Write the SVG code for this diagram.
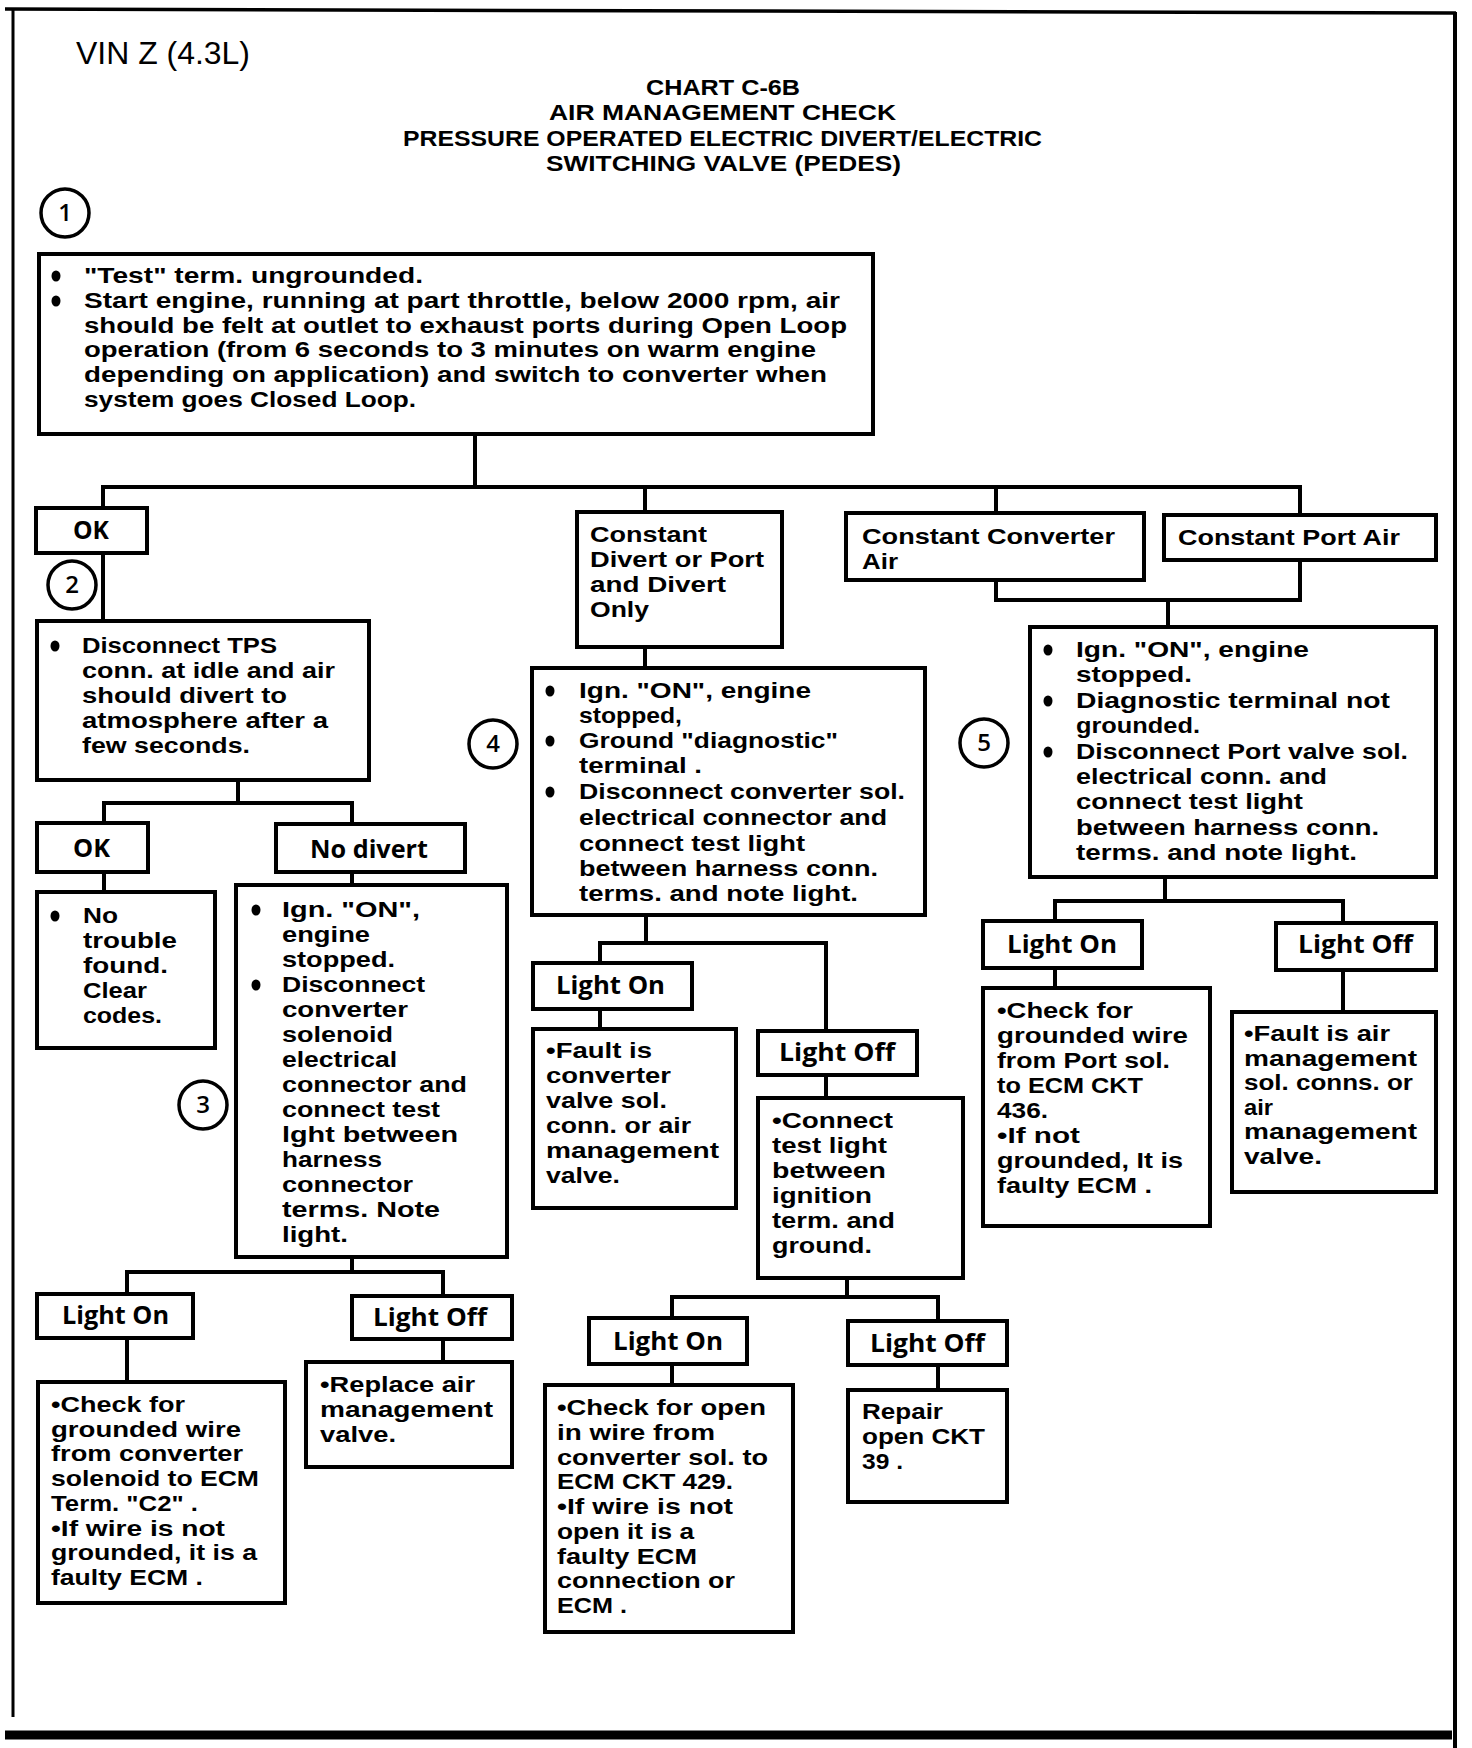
<svg xmlns="http://www.w3.org/2000/svg" width="1472" height="1748" viewBox="0 0 1472 1748">
<style>
.frame{stroke:#000;fill:none}
.box{fill:#fff;stroke:#000;stroke-width:4}
.c{stroke:#000;stroke-width:4;fill:none;stroke-linecap:square}
.num{fill:#fff;stroke:#000;stroke-width:3.5}
.dot{fill:#000}
text{fill:#000}
.t{font-family:"Liberation Sans","Open Sans",sans-serif;font-weight:700;font-size:21.5px}
.lb{font-family:"Open Sans","Liberation Sans",sans-serif;font-weight:700;font-size:25px}
.n{font-family:"Open Sans","Liberation Sans",sans-serif;font-weight:600;font-size:24px;text-anchor:middle}
.h{font-family:"Liberation Sans",sans-serif;font-weight:700;font-size:22.5px}
.vin{font-family:"Liberation Sans",sans-serif;font-size:31px}
</style>
<rect x="0" y="0" width="1472" height="1748" fill="#fff"/>
<g id="frame">
<path class="frame" d="M5,9 L1456,13" stroke-width="3.5"/>
<path class="frame" d="M13,9 L13,1717" stroke-width="3"/>
<path class="frame" d="M1455,12 L1455,1748" stroke-width="4"/>
<path class="frame" d="M5,1735 L1452,1735" stroke-width="9"/>
</g>
<g id="titles">
<text class="vin" x="76" y="64" textLength="174" lengthAdjust="spacingAndGlyphs">VIN Z (4.3L)</text>
<text class="h" x="646" y="95" textLength="154" lengthAdjust="spacingAndGlyphs">CHART C-6B</text>
<text class="h" x="549" y="120.3" textLength="347" lengthAdjust="spacingAndGlyphs">AIR MANAGEMENT CHECK</text>
<text class="h" x="403" y="145.7" textLength="639" lengthAdjust="spacingAndGlyphs">PRESSURE OPERATED ELECTRIC DIVERT/ELECTRIC</text>
<text class="h" x="546" y="171" textLength="355" lengthAdjust="spacingAndGlyphs">SWITCHING VALVE (PEDES)</text>
</g>
<g id="connectors">
<path class="c" d="M475,434 V487 M103,487 H1300 M103,487 V508 M645,487 V512 M996,487 V513 M1300,487 V515"/>
<path class="c" d="M103,553 V621"/>
<path class="c" d="M238,780 V803 M104,803 H352 M104,803 V823 M352,803 V824"/>
<path class="c" d="M104,872 V892 M352,872 V885"/>
<path class="c" d="M352,1257 V1272 M127,1272 H443 M127,1272 V1294 M443,1272 V1296"/>
<path class="c" d="M127,1338 V1382 M443,1339 V1362"/>
<path class="c" d="M645,647 V668"/>
<path class="c" d="M646,915 V943 M600,943 H826 M600,943 V963 M826,943 V1031"/>
<path class="c" d="M600,1009 V1029 M826,1075 V1098"/>
<path class="c" d="M847,1278 V1297 M672,1297 H938 M672,1297 V1318 M938,1297 V1321"/>
<path class="c" d="M672,1364 V1385 M938,1365 V1390"/>
<path class="c" d="M996,580 V600 M1300,560 V600 M996,600 H1300 M1168,600 V627"/>
<path class="c" d="M1165,877 V901 M1055,901 H1343 M1055,901 V921 M1343,901 V923"/>
<path class="c" d="M1055,968 V988 M1343,970 V1012"/>
</g>
<g id="step1">
<circle class="num" cx="65" cy="213" r="24"/>
<text class="n" x="65" y="221">1</text>
</g>
<g id="step2">
<circle class="num" cx="72" cy="585" r="24"/>
<text class="n" x="72" y="593">2</text>
</g>
<g id="step3">
<circle class="num" cx="203" cy="1105" r="24"/>
<text class="n" x="203" y="1113">3</text>
</g>
<g id="step4">
<circle class="num" cx="493" cy="744" r="24"/>
<text class="n" x="493" y="752">4</text>
</g>
<g id="step5">
<circle class="num" cx="984" cy="743" r="24"/>
<text class="n" x="984" y="751">5</text>
</g>
<g id="box1">
<rect class="box" x="39" y="254" width="834" height="180"/>
<ellipse class="dot" cx="56" cy="276" rx="4.5" ry="5.5"/>
<ellipse class="dot" cx="56" cy="301" rx="4.5" ry="5.5"/>
<text class="t" x="84" y="283" textLength="339" lengthAdjust="spacingAndGlyphs">"Test" term. ungrounded.</text>
<text class="t" x="84" y="307.8" textLength="756" lengthAdjust="spacingAndGlyphs">Start engine, running at part throttle, below 2000 rpm, air</text>
<text class="t" x="84" y="332.6" textLength="763" lengthAdjust="spacingAndGlyphs">should be felt at outlet to exhaust ports during Open Loop</text>
<text class="t" x="84" y="357.4" textLength="732" lengthAdjust="spacingAndGlyphs">operation (from 6 seconds to 3 minutes on warm engine</text>
<text class="t" x="84" y="382.2" textLength="743" lengthAdjust="spacingAndGlyphs">depending on application) and switch to converter when</text>
<text class="t" x="84" y="407" textLength="332" lengthAdjust="spacingAndGlyphs">system goes Closed Loop.</text>
</g>
<g id="ok1">
<rect class="box" x="36" y="508" width="111" height="45"/>
<text class="lb" x="73" y="539" textLength="36" lengthAdjust="spacingAndGlyphs">OK</text>
</g>
<g id="tps">
<rect class="box" x="37" y="621" width="332" height="159"/>
<ellipse class="dot" cx="55" cy="646" rx="4.5" ry="5.5"/>
<text class="t" x="82" y="653" textLength="195" lengthAdjust="spacingAndGlyphs">Disconnect TPS</text>
<text class="t" x="82" y="678" textLength="253" lengthAdjust="spacingAndGlyphs">conn. at idle and air</text>
<text class="t" x="82" y="703" textLength="205" lengthAdjust="spacingAndGlyphs">should divert to</text>
<text class="t" x="82" y="728" textLength="246" lengthAdjust="spacingAndGlyphs">atmosphere after a</text>
<text class="t" x="82" y="753" textLength="168" lengthAdjust="spacingAndGlyphs">few seconds.</text>
</g>
<g id="ok2">
<rect class="box" x="37" y="823" width="111" height="49"/>
<text class="lb" x="73" y="857" textLength="37" lengthAdjust="spacingAndGlyphs">OK</text>
</g>
<g id="notrouble">
<rect class="box" x="37" y="892" width="178" height="156"/>
<ellipse class="dot" cx="55" cy="916" rx="4.5" ry="5.5"/>
<text class="t" x="83" y="923" textLength="35" lengthAdjust="spacingAndGlyphs">No</text>
<text class="t" x="83" y="948" textLength="94" lengthAdjust="spacingAndGlyphs">trouble</text>
<text class="t" x="83" y="973" textLength="85" lengthAdjust="spacingAndGlyphs">found.</text>
<text class="t" x="83" y="998" textLength="64" lengthAdjust="spacingAndGlyphs">Clear</text>
<text class="t" x="83" y="1023" textLength="79" lengthAdjust="spacingAndGlyphs">codes.</text>
</g>
<g id="nodivert">
<rect class="box" x="276" y="824" width="189" height="48"/>
<text class="lb" x="310" y="858" textLength="118" lengthAdjust="spacingAndGlyphs">No divert</text>
</g>
<g id="box3">
<rect class="box" x="236" y="885" width="271" height="372"/>
<ellipse class="dot" cx="256" cy="910" rx="4.5" ry="5.5"/>
<ellipse class="dot" cx="256" cy="985" rx="4.5" ry="5.5"/>
<text class="t" x="282" y="917" textLength="138" lengthAdjust="spacingAndGlyphs">Ign. "ON",</text>
<text class="t" x="282" y="942" textLength="88" lengthAdjust="spacingAndGlyphs">engine</text>
<text class="t" x="282" y="967" textLength="113" lengthAdjust="spacingAndGlyphs">stopped.</text>
<text class="t" x="282" y="992" textLength="143" lengthAdjust="spacingAndGlyphs">Disconnect</text>
<text class="t" x="282" y="1017" textLength="126" lengthAdjust="spacingAndGlyphs">converter</text>
<text class="t" x="282" y="1042" textLength="111" lengthAdjust="spacingAndGlyphs">solenoid</text>
<text class="t" x="282" y="1067" textLength="115" lengthAdjust="spacingAndGlyphs">electrical</text>
<text class="t" x="282" y="1092" textLength="185" lengthAdjust="spacingAndGlyphs">connector and</text>
<text class="t" x="282" y="1117" textLength="158" lengthAdjust="spacingAndGlyphs">connect test</text>
<text class="t" x="282" y="1142" textLength="176" lengthAdjust="spacingAndGlyphs">lght between</text>
<text class="t" x="282" y="1167" textLength="100" lengthAdjust="spacingAndGlyphs">harness</text>
<text class="t" x="282" y="1192" textLength="131" lengthAdjust="spacingAndGlyphs">connector</text>
<text class="t" x="282" y="1217" textLength="158" lengthAdjust="spacingAndGlyphs">terms.  Note</text>
<text class="t" x="282" y="1242" textLength="66" lengthAdjust="spacingAndGlyphs">light.</text>
</g>
<g id="lighton1">
<rect class="box" x="37" y="1294" width="156" height="44"/>
<text class="lb" x="62" y="1324" textLength="107" lengthAdjust="spacingAndGlyphs">Light On</text>
</g>
<g id="check1">
<rect class="box" x="38" y="1382" width="247" height="221"/>
<text class="t" x="51" y="1412" textLength="134" lengthAdjust="spacingAndGlyphs">•Check for</text>
<text class="t" x="51" y="1436.7" textLength="190" lengthAdjust="spacingAndGlyphs">grounded wire</text>
<text class="t" x="51" y="1461.4" textLength="192" lengthAdjust="spacingAndGlyphs">from converter</text>
<text class="t" x="51" y="1486.1" textLength="208" lengthAdjust="spacingAndGlyphs">solenoid to ECM</text>
<text class="t" x="51" y="1510.8" textLength="147" lengthAdjust="spacingAndGlyphs">Term. "C2" .</text>
<text class="t" x="51" y="1535.5" textLength="174" lengthAdjust="spacingAndGlyphs">•If wire is not</text>
<text class="t" x="51" y="1560.2" textLength="206" lengthAdjust="spacingAndGlyphs">grounded, it is a</text>
<text class="t" x="51" y="1585" textLength="152" lengthAdjust="spacingAndGlyphs">faulty ECM .</text>
</g>
<g id="lightoff1">
<rect class="box" x="352" y="1296" width="160" height="43"/>
<text class="lb" x="373" y="1326" textLength="114" lengthAdjust="spacingAndGlyphs">Light Off</text>
</g>
<g id="replace">
<rect class="box" x="306" y="1362" width="206" height="105"/>
<text class="t" x="320" y="1392" textLength="155" lengthAdjust="spacingAndGlyphs">•Replace air</text>
<text class="t" x="320" y="1417" textLength="173" lengthAdjust="spacingAndGlyphs">management</text>
<text class="t" x="320" y="1442" textLength="76" lengthAdjust="spacingAndGlyphs">valve.</text>
</g>
<g id="constdivert">
<rect class="box" x="577" y="512" width="205" height="135"/>
<text class="t" x="590" y="542" textLength="117" lengthAdjust="spacingAndGlyphs">Constant</text>
<text class="t" x="590" y="567" textLength="174" lengthAdjust="spacingAndGlyphs">Divert or Port</text>
<text class="t" x="590" y="592" textLength="136" lengthAdjust="spacingAndGlyphs">and Divert</text>
<text class="t" x="590" y="617" textLength="59" lengthAdjust="spacingAndGlyphs">Only</text>
</g>
<g id="box4">
<rect class="box" x="532" y="668" width="393" height="247"/>
<ellipse class="dot" cx="550" cy="691" rx="4.5" ry="5.5"/>
<ellipse class="dot" cx="550" cy="741" rx="4.5" ry="5.5"/>
<ellipse class="dot" cx="550" cy="792" rx="4.5" ry="5.5"/>
<text class="t" x="579" y="698" textLength="232" lengthAdjust="spacingAndGlyphs">Ign. "ON", engine</text>
<text class="t" x="579" y="723" textLength="103" lengthAdjust="spacingAndGlyphs">stopped,</text>
<text class="t" x="579" y="748" textLength="259" lengthAdjust="spacingAndGlyphs">Ground "diagnostic"</text>
<text class="t" x="579" y="773" textLength="123" lengthAdjust="spacingAndGlyphs">terminal .</text>
<text class="t" x="579" y="799" textLength="326" lengthAdjust="spacingAndGlyphs">Disconnect converter sol.</text>
<text class="t" x="579" y="825" textLength="308" lengthAdjust="spacingAndGlyphs">electrical connector and</text>
<text class="t" x="579" y="851" textLength="226" lengthAdjust="spacingAndGlyphs">connect test light</text>
<text class="t" x="579" y="876" textLength="299" lengthAdjust="spacingAndGlyphs">between harness conn.</text>
<text class="t" x="579" y="901" textLength="279" lengthAdjust="spacingAndGlyphs">terms. and note light.</text>
</g>
<g id="lighton2">
<rect class="box" x="533" y="963" width="159" height="46"/>
<text class="lb" x="556" y="994" textLength="109" lengthAdjust="spacingAndGlyphs">Light On</text>
</g>
<g id="fault1">
<rect class="box" x="533" y="1029" width="203" height="179"/>
<text class="t" x="546" y="1058" textLength="106" lengthAdjust="spacingAndGlyphs">•Fault is</text>
<text class="t" x="546" y="1083" textLength="125" lengthAdjust="spacingAndGlyphs">converter</text>
<text class="t" x="546" y="1108" textLength="121" lengthAdjust="spacingAndGlyphs">valve sol.</text>
<text class="t" x="546" y="1133" textLength="145" lengthAdjust="spacingAndGlyphs">conn. or air</text>
<text class="t" x="546" y="1158" textLength="173" lengthAdjust="spacingAndGlyphs">management</text>
<text class="t" x="546" y="1183" textLength="74" lengthAdjust="spacingAndGlyphs">valve.</text>
</g>
<g id="lightoff2">
<rect class="box" x="758" y="1031" width="159" height="44"/>
<text class="lb" x="779" y="1061" textLength="116" lengthAdjust="spacingAndGlyphs">Light Off</text>
</g>
<g id="connect">
<rect class="box" x="758" y="1098" width="205" height="180"/>
<text class="t" x="772" y="1128" textLength="121" lengthAdjust="spacingAndGlyphs">•Connect</text>
<text class="t" x="772" y="1153" textLength="115" lengthAdjust="spacingAndGlyphs">test light</text>
<text class="t" x="772" y="1178" textLength="114" lengthAdjust="spacingAndGlyphs">between</text>
<text class="t" x="772" y="1203" textLength="100" lengthAdjust="spacingAndGlyphs">ignition</text>
<text class="t" x="772" y="1228" textLength="123" lengthAdjust="spacingAndGlyphs">term. and</text>
<text class="t" x="772" y="1253" textLength="100" lengthAdjust="spacingAndGlyphs">ground.</text>
</g>
<g id="lighton3">
<rect class="box" x="589" y="1318" width="158" height="46"/>
<text class="lb" x="613" y="1350" textLength="110" lengthAdjust="spacingAndGlyphs">Light On</text>
</g>
<g id="checkopen">
<rect class="box" x="545" y="1385" width="248" height="247"/>
<text class="t" x="557" y="1415" textLength="209" lengthAdjust="spacingAndGlyphs">•Check for open</text>
<text class="t" x="557" y="1439.75" textLength="158" lengthAdjust="spacingAndGlyphs">in wire from</text>
<text class="t" x="557" y="1464.5" textLength="211" lengthAdjust="spacingAndGlyphs">converter sol. to</text>
<text class="t" x="557" y="1489.25" textLength="176" lengthAdjust="spacingAndGlyphs">ECM CKT 429.</text>
<text class="t" x="557" y="1514" textLength="176" lengthAdjust="spacingAndGlyphs">•If wire is not</text>
<text class="t" x="557" y="1538.75" textLength="137" lengthAdjust="spacingAndGlyphs">open it is a</text>
<text class="t" x="557" y="1563.5" textLength="140" lengthAdjust="spacingAndGlyphs">faulty ECM</text>
<text class="t" x="557" y="1588.25" textLength="178" lengthAdjust="spacingAndGlyphs">connection or</text>
<text class="t" x="557" y="1613" textLength="70" lengthAdjust="spacingAndGlyphs">ECM .</text>
</g>
<g id="lightoff3">
<rect class="box" x="848" y="1321" width="159" height="44"/>
<text class="lb" x="870" y="1352" textLength="115" lengthAdjust="spacingAndGlyphs">Light Off</text>
</g>
<g id="repair">
<rect class="box" x="848" y="1390" width="159" height="112"/>
<text class="t" x="862" y="1419" textLength="81" lengthAdjust="spacingAndGlyphs">Repair</text>
<text class="t" x="862" y="1444" textLength="123" lengthAdjust="spacingAndGlyphs">open CKT</text>
<text class="t" x="862" y="1469" textLength="41" lengthAdjust="spacingAndGlyphs">39 .</text>
</g>
<g id="constconv">
<rect class="box" x="846" y="513" width="298" height="67"/>
<text class="t" x="862" y="544" textLength="253" lengthAdjust="spacingAndGlyphs">Constant Converter</text>
<text class="t" x="862" y="569" textLength="36" lengthAdjust="spacingAndGlyphs">Air</text>
</g>
<g id="portair">
<rect class="box" x="1164" y="515" width="272" height="45"/>
<text class="t" x="1178" y="545" textLength="222" lengthAdjust="spacingAndGlyphs">Constant Port Air</text>
</g>
<g id="box5">
<rect class="box" x="1030" y="627" width="406" height="250"/>
<ellipse class="dot" cx="1048" cy="650" rx="4.5" ry="5.5"/>
<ellipse class="dot" cx="1048" cy="701" rx="4.5" ry="5.5"/>
<ellipse class="dot" cx="1048" cy="752" rx="4.5" ry="5.5"/>
<text class="t" x="1076" y="657" textLength="233" lengthAdjust="spacingAndGlyphs">Ign. "ON", engine</text>
<text class="t" x="1076" y="682" textLength="116" lengthAdjust="spacingAndGlyphs">stopped.</text>
<text class="t" x="1076" y="708" textLength="314" lengthAdjust="spacingAndGlyphs">Diagnostic  terminal not</text>
<text class="t" x="1076" y="733" textLength="124" lengthAdjust="spacingAndGlyphs">grounded.</text>
<text class="t" x="1076" y="759" textLength="332" lengthAdjust="spacingAndGlyphs">Disconnect Port valve sol.</text>
<text class="t" x="1076" y="784" textLength="251" lengthAdjust="spacingAndGlyphs">electrical conn. and</text>
<text class="t" x="1076" y="809" textLength="227" lengthAdjust="spacingAndGlyphs">connect test light</text>
<text class="t" x="1076" y="835" textLength="303" lengthAdjust="spacingAndGlyphs">between harness conn.</text>
<text class="t" x="1076" y="860" textLength="281" lengthAdjust="spacingAndGlyphs">terms. and note light.</text>
</g>
<g id="lighton4">
<rect class="box" x="983" y="921" width="159" height="47"/>
<text class="lb" x="1007" y="953" textLength="110" lengthAdjust="spacingAndGlyphs">Light On</text>
</g>
<g id="check4">
<rect class="box" x="983" y="988" width="227" height="238"/>
<text class="t" x="997" y="1018" textLength="136" lengthAdjust="spacingAndGlyphs">•Check for</text>
<text class="t" x="997" y="1043" textLength="191" lengthAdjust="spacingAndGlyphs">grounded  wire</text>
<text class="t" x="997" y="1068" textLength="173" lengthAdjust="spacingAndGlyphs">from Port sol.</text>
<text class="t" x="997" y="1093" textLength="146" lengthAdjust="spacingAndGlyphs">to ECM CKT</text>
<text class="t" x="997" y="1118" textLength="51" lengthAdjust="spacingAndGlyphs">436.</text>
<text class="t" x="997" y="1143" textLength="83" lengthAdjust="spacingAndGlyphs">•If not</text>
<text class="t" x="997" y="1168" textLength="186" lengthAdjust="spacingAndGlyphs">grounded, It is</text>
<text class="t" x="997" y="1193" textLength="155" lengthAdjust="spacingAndGlyphs">faulty ECM .</text>
</g>
<g id="lightoff4">
<rect class="box" x="1276" y="923" width="160" height="47"/>
<text class="lb" x="1298" y="953" textLength="115" lengthAdjust="spacingAndGlyphs">Light Off</text>
</g>
<g id="fault4">
<rect class="box" x="1232" y="1012" width="204" height="180"/>
<text class="t" x="1244" y="1041" textLength="146" lengthAdjust="spacingAndGlyphs">•Fault is air</text>
<text class="t" x="1244" y="1065.5" textLength="173" lengthAdjust="spacingAndGlyphs">management</text>
<text class="t" x="1244" y="1090" textLength="169" lengthAdjust="spacingAndGlyphs">sol. conns. or</text>
<text class="t" x="1244" y="1114.5" textLength="29" lengthAdjust="spacingAndGlyphs">air</text>
<text class="t" x="1244" y="1139" textLength="173" lengthAdjust="spacingAndGlyphs">management</text>
<text class="t" x="1244" y="1163.5" textLength="78" lengthAdjust="spacingAndGlyphs">valve.</text>
</g>
</svg>
